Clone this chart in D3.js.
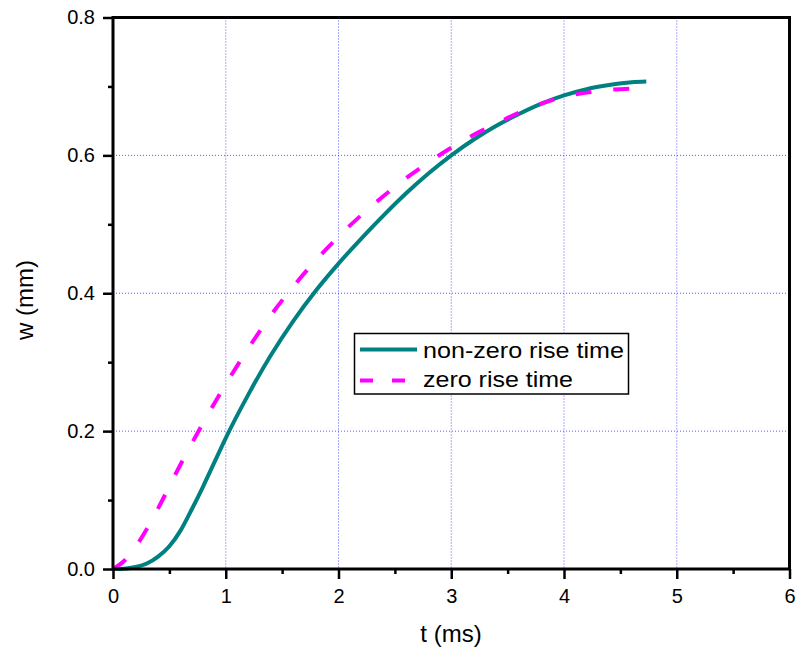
<!DOCTYPE html>
<meta charset="utf-8">
<style>
  body { margin: 0; background: #fff; }
  text { font-family: "Liberation Sans", Arial, sans-serif; fill: #000; }
</style>
<body>
<script src="https://d3js.org/d3.v7.min.js"></script>
<script>

// curve data
var tSolid = [0, 0.1, 0.2, 0.3, 0.4, 0.5, 0.6, 0.7, 0.8, 0.9, 1.0, 1.2, 1.4, 1.6, 1.8, 2.0, 2.2, 2.4, 2.6, 2.8, 3.0, 3.2, 3.4, 3.6, 3.8, 4.0, 4.2, 4.4, 4.6, 4.73];
var wSolid = [0, 0.0005, 0.003, 0.008, 0.018, 0.033, 0.056, 0.087, 0.12, 0.155, 0.19, 0.253, 0.31, 0.36, 0.404, 0.443, 0.479, 0.513, 0.545, 0.574, 0.6, 0.623, 0.643, 0.66, 0.675, 0.687, 0.696, 0.702, 0.706, 0.707];

var tDash = [0, 0.1, 0.2, 0.3, 0.4, 0.6, 0.8, 1.0, 1.2, 1.4, 1.6, 1.8, 2.0, 2.2, 2.4, 2.6, 2.8, 3.0, 3.2, 3.4, 3.6, 3.8, 4.0, 4.2, 4.4, 4.62];
var wDash = [0, 0.012, 0.032, 0.058, 0.088, 0.152, 0.212, 0.268, 0.32, 0.368, 0.41, 0.448, 0.482, 0.513, 0.541, 0.567, 0.59, 0.611, 0.63, 0.646, 0.662, 0.675, 0.685, 0.691, 0.695, 0.697];

var xTicks = [0, 1, 2, 3, 4, 5, 6];
var yTicks = [0, 0.2, 0.4, 0.6, 0.8];
var legendNames = ["non-zero rise time", "zero rise time"];

var width = 799,
    height = 657;

var svg = d3.select("body").append("svg")
    .attr("width", width)
    .attr("height", height);

var x = d3.scaleLinear().domain([0, 6]).range([113, 789.5]);
var y = d3.scaleLinear().domain([0, 0.8]).range([569, 17.5]);

// grid (blue dotted)
var grid = svg.append("g").attr("class", "grid");
grid.selectAll("line.gx")
  .data(xTicks.filter(function(d) { return d > 0 && d < 6; }))
  .enter().append("line")
    .attr("x1", function(d) { return x(d); })
    .attr("x2", function(d) { return x(d); })
    .attr("y1", y(0.8))
    .attr("y2", y(0))
    .attr("stroke", "#3030ff")
    .attr("stroke-opacity", 0.8)
    .attr("stroke-dasharray", "1,2");
grid.selectAll("line.gy")
  .data(yTicks.filter(function(d) { return d > 0 && d < 0.8; }))
  .enter().append("line")
    .attr("y1", function(d) { return y(d); })
    .attr("y2", function(d) { return y(d); })
    .attr("x1", x(0))
    .attr("x2", x(6))
    .attr("stroke", "#3030ff")
    .attr("stroke-opacity", 0.8)
    .attr("stroke-dasharray", "1,2");

// curves
var line = d3.line()
    .x(function(d) { return x(d[0]); })
    .y(function(d) { return y(d[1]); })
    .curve(d3.curveMonotoneX);

svg.append("path")
    .datum(d3.zip(tSolid, wSolid))
    .attr("d", line)
    .attr("fill", "none")
    .attr("stroke", "#008080")
    .attr("stroke-width", 4);

svg.append("path")
    .datum(d3.zip(tDash, wDash))
    .attr("d", line)
    .attr("fill", "none")
    .attr("stroke", "#ff00ff")
    .attr("stroke-width", 4)
    .attr("stroke-dasharray", "16,22");

// frame
svg.append("rect")
    .attr("x", x(0))
    .attr("y", y(0.8))
    .attr("width", x(6) - x(0))
    .attr("height", y(0) - y(0.8))
    .attr("fill", "none")
    .attr("stroke", "#000")
    .attr("stroke-width", 3);

// axes
var xAxis = svg.append("g")
    .attr("transform", "translate(0," + y(0) + ")")
    .call(d3.axisBottom(x).tickValues(xTicks).tickSize(10).tickPadding(10).tickFormat(d3.format("d")));
var xMinor = svg.append("g")
    .attr("transform", "translate(0," + y(0) + ")")
    .call(d3.axisBottom(x).tickValues(d3.range(0.5, 6, 1)).tickSize(5).tickFormat(""));

var yAxis = svg.append("g")
    .attr("transform", "translate(" + x(0) + ",0)")
    .call(d3.axisLeft(y).tickValues(yTicks).tickSize(10).tickPadding(8).tickFormat(d3.format(".1f")));
var yMinor = svg.append("g")
    .attr("transform", "translate(" + x(0) + ",0)")
    .call(d3.axisLeft(y).tickValues([0.1, 0.3, 0.5, 0.7]).tickSize(5).tickFormat(""));

[xAxis, xMinor, yAxis, yMinor].forEach(function(g) {
  g.select(".domain").remove();
  g.selectAll(".tick line").attr("stroke", "#000").attr("stroke-width", 2.5);
  g.selectAll(".tick text")
      .style("font-family", "'Liberation Sans', Arial, sans-serif")
      .style("font-size", "20px")
      .attr("fill", "#000");
});

// axis titles
svg.append("text")
    .attr("x", 451)
    .attr("y", 642)
    .attr("text-anchor", "middle")
    .style("font-size", "24px")
    .text("t (ms)");

svg.append("text")
    .attr("transform", "translate(33,300) rotate(-90)")
    .attr("text-anchor", "middle")
    .style("font-size", "24px")
    .text("w (mm)");

// legend
var legend = svg.append("g").attr("class", "legend");
legend.append("rect")
    .attr("x", 354.5)
    .attr("y", 333.5)
    .attr("width", 274)
    .attr("height", 60.5)
    .attr("fill", "#fff")
    .attr("stroke", "#000")
    .attr("stroke-width", 1.5);

legend.append("line")
    .attr("x1", 360).attr("x2", 417)
    .attr("y1", 349.5).attr("y2", 349.5)
    .attr("stroke", "#008080")
    .attr("stroke-width", 4);
legend.append("line")
    .attr("x1", 360).attr("x2", 408)
    .attr("y1", 380.5).attr("y2", 380.5)
    .attr("stroke", "#ff00ff")
    .attr("stroke-width", 4)
    .attr("stroke-dasharray", "13,19");

legend.selectAll("text")
  .data(legendNames)
  .enter().append("text")
    .attr("x", 423)
    .attr("y", function(d, i) { return 357.5 + i * 29; })
    .style("font-size", "22px")
    .attr("textLength", function(d, i) { return i === 0 ? 201 : 150; })
    .attr("lengthAdjust", "spacingAndGlyphs")
    .text(function(d) { return d; });

</script>
</body>
